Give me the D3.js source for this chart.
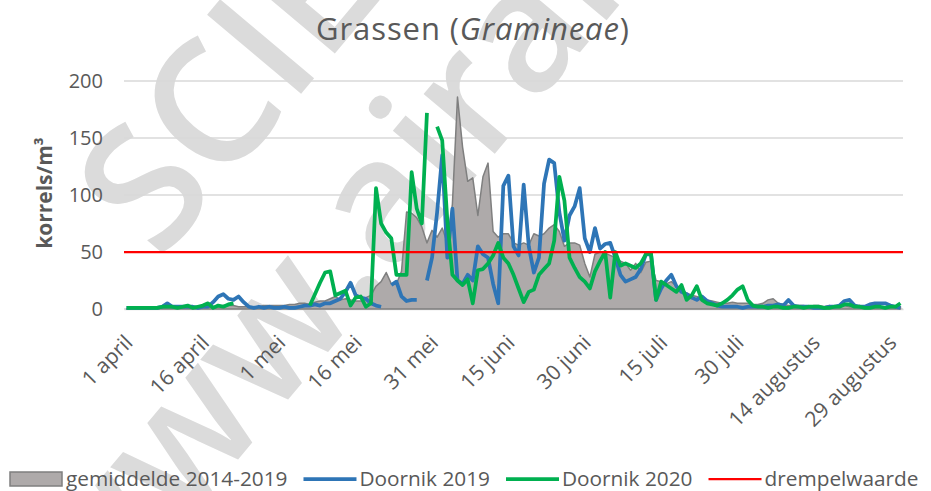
<!DOCTYPE html>
<html>
<head>
<meta charset="utf-8">
<script src="https://cdn.jsdelivr.net/npm/d3@7"></script>
<style>
  body { margin: 0; background: #fff; }
  svg { display: block; font-family: 'Open Sans', 'Noto Sans', sans-serif; }
</style>
</head>
<body>
<div id="chart"></div>
<script>
// daily categories, 1 april - 31 augustus
const days = d3.timeDay.range(new Date(2020, 3, 1), new Date(2020, 8, 1));

const tickLabels = ['1 april', '16 april', '1 mei', '16 mei', '31 mei', '15 juni',
  '30 juni', '15 juli', '30 juli', '14 augustus', '29 augustus'];
const tickStep = 15;
const yTicks = [0, 50, 100, 150, 200];

const gemiddelde = [
  0, 0, 0, 0, 1, 1, 1, 1, 1, 1, 1, 1, 1, 2, 2, 2, 2, 2, 3, 3,
  3, 3, 2, 2, 2, 2, 2, 3, 3, 3, 3, 3, 4, 4, 5, 5, 4, 6, 7, 7,
  9, 11, 8, 9, 8, 7, 7, 10, 12, 20, 24, 32, 22, 22, 33, 85, 84, 80, 72, 58,
  69, 63, 71, 58, 92, 186, 142, 112, 115, 82, 116, 128, 68, 63, 66, 66, 58, 56, 58, 56,
  66, 64, 66, 71, 74, 68, 55, 58, 58, 56, 40, 28, 48, 50, 49, 47, 45, 42, 40, 34,
  40, 32, 41, 42, 25, 24, 22, 24, 20, 17, 14, 12, 11, 9, 8, 7, 6, 5, 5, 6,
  5, 5, 5, 4, 4, 5, 8, 9, 5, 4, 3, 3, 3, 3, 2, 3, 3, 2, 3, 2,
  3, 3, 2, 2, 3, 2, 3, 3, 2, 2, 2, 2, 2
];

const doornik2019 = [
  1, 1, 1, 1, 1, 1, 1, 2, 5, 2, 2, 2, 2, 2, 1, 2, 2, 6, 11, 13,
  9, 8, 11, 6, 2, 1, 2, 1, 2, 1, 1, 2, 1, 1, 2, 3, 3, 4, 3, 5,
  5, 7, 9, 15, 23, 12, 10, 9, 5, 3, 2, null, 21, 24, 11, 7, 8, 8, null, 25,
  45, 85, 135, 45, 88, 25, 22, 30, 25, 55, 48, 45, 22, 5, 108, 117, 55, 47, 109, 55,
  32, 45, 110, 131, 128, 85, 60, 82, 90, 106, 62, 50, 71, 53, 57, 58, 45, 30, 24, 26,
  28, 35, 48, 48, 8, 18, 25, 30, 20, 15, 13, 10, 8, 11, 7, 5, 3, 2, 2, 2,
  2, 1, 2, 2, 2, 2, 3, 3, 4, 3, 8, 3, 2, 2, 2, 1, 1, 1, 2, 2,
  3, 7, 8, 3, 2, 2, 4, 5, 5, 5, 3, 2, 1
];

const doornik2020 = [
  1, 1, 1, 1, 1, 1, 1, 2, 2, 2, 1, 2, 3, 1, 2, 3, 5, 1, 3, 2,
  4, 5, null, null, null, null, null, null, null, null, null, null, null, null, null, null, 3, 13, 23, 32,
  33, 12, 14, 16, 3, 10, 11, 2, 5, 106, 75, 67, 62, 30, 30, 30, 120, 88, 75, 172,
  null, 160, 148, 78, 30, 25, 21, 26, 5, 34, 35, 40, 47, 58, 45, 40, 30, 18, 6, 15,
  17, 30, 35, 40, 60, 116, 95, 45, 36, 28, 24, 18, 33, 42, 50, 10, 50, 38, 40, 38,
  36, 40, 48, 49, 8, 24, 21, 18, 15, 21, 8, 12, 20, 8, 5, 4, 3, 5, 8, 12,
  17, 20, 8, 3, 2, 2, 1, 2, 2, 1, 1, 2, 2, 1, 2, 2, 2, 1, 1, 2,
  2, 4, 4, 2, 2, 1, 1, 2, 2, 1, 2, 2, 5
];

const drempelwaarde = 50;

const legendNames = ['gemiddelde 2014-2019', 'Doornik 2019', 'Doornik 2020', 'drempelwaarde'];

const colors = {
  area: '#aeaaaa',
  areaStroke: '#7f7f7f',
  blue: '#2e75b6',
  green: '#00b050',
  red: '#ff0000',
  grid: '#d9d9d9',
  text: '#595959'
};

const width = 931;
const height = 491;
const plot = { left: 124, right: 903, top: 81, bottom: 309 };

const svg = d3.select('#chart').append('svg')
  .attr('width', width)
  .attr('height', height);

const x = d3.scalePoint()
  .domain(d3.range(days.length))
  .range([plot.left, plot.right])
  .padding(0.5);

const y = d3.scaleLinear()
  .domain([0, 200])
  .range([plot.bottom, plot.top]);

// watermark
const mark = svg.append('g')
  .attr('fill', '#dbdbdb')
  .attr('font-size', 172)
  .attr('font-weight', 600);
mark.append('text')
  .attr('transform', 'translate(160,262) rotate(-50)')
  .text('SCIENSANO');
mark.append('text')
  .attr('transform', 'translate(90,636) rotate(-50)')
  .text('www.airallergy.be');

// gridlines
svg.append('g')
  .selectAll('line')
  .data(yTicks)
  .enter().append('line')
  .attr('x1', plot.left)
  .attr('x2', plot.right)
  .attr('y1', d => y(d))
  .attr('y2', d => y(d))
  .attr('stroke', colors.grid)
  .attr('stroke-width', 1.5);

// y axis labels
const yAxis = svg.append('g')
  .attr('transform', `translate(${plot.left},0)`)
  .call(d3.axisLeft(y).tickValues(yTicks).tickSize(0).tickPadding(21));
yAxis.select('.domain').remove();
yAxis.selectAll('text')
  .attr('fill', colors.text)
  .attr('font-size', 20)
  .attr('font-family', 'Open Sans');

// x axis
const tickIdx = d3.range(0, days.length, tickStep);
const xAxis = svg.append('g')
  .attr('transform', `translate(0,${plot.bottom})`)
  .call(d3.axisBottom(x).tickValues(tickIdx).tickSize(0)
    .tickFormat((d, i) => tickLabels[i]));
xAxis.select('.domain').attr('stroke', colors.grid).attr('stroke-width', 1.5);
xAxis.selectAll('text')
  .attr('x', 0)
  .attr('y', 0)
  .attr('dy', 0)
  .attr('transform', 'translate(7,35) rotate(-45)')
  .attr('text-anchor', 'end')
  .attr('fill', colors.text)
  .attr('font-size', 21)
  .attr('font-family', 'Open Sans');

// gemiddelde area
const area = d3.area()
  .x((d, i) => x(i))
  .y0(y(0))
  .y1(d => y(d));
svg.append('path')
  .datum(gemiddelde)
  .attr('d', area)
  .attr('fill', colors.area)
  .attr('stroke', colors.areaStroke)
  .attr('stroke-width', 1.5)
  .attr('stroke-linejoin', 'round');

const line = d3.line()
  .defined(d => d != null)
  .x((d, i) => x(i))
  .y(d => y(d));

svg.append('path')
  .datum(doornik2019)
  .attr('d', line)
  .attr('fill', 'none')
  .attr('stroke', colors.blue)
  .attr('stroke-width', 3.75)
  .attr('stroke-linejoin', 'round');

svg.append('path')
  .datum(doornik2020)
  .attr('d', line)
  .attr('fill', 'none')
  .attr('stroke', colors.green)
  .attr('stroke-width', 3.75)
  .attr('stroke-linejoin', 'round');

svg.append('line')
  .attr('x1', plot.left)
  .attr('x2', plot.right)
  .attr('y1', y(drempelwaarde))
  .attr('y2', y(drempelwaarde))
  .attr('stroke', colors.red)
  .attr('stroke-width', 2.25);

// title
const title = svg.append('text')
  .attr('x', 473)
  .attr('y', 40)
  .attr('text-anchor', 'middle')
  .attr('fill', colors.text)
  .attr('font-size', 31)
  .attr('letter-spacing', 0.9);
title.append('tspan').text('Grassen (');
title.append('tspan').attr('font-style', 'italic').text('Gramineae');
title.append('tspan').text(')');

// y axis title
svg.append('text')
  .attr('transform', 'translate(52,193) rotate(-90)')
  .attr('text-anchor', 'middle')
  .attr('fill', colors.text)
  .attr('font-size', 21)
  .attr('font-weight', 'bold')
  .text('korrels/m³');

// legend
const legend = svg.append('g')
  .attr('font-size', 20.8)
  .attr('fill', colors.text);
const legendY = 479;
const symbolColors = [null, colors.blue, colors.green, colors.red];
let lx = 10;
legendNames.forEach((name, i) => {
  if (i === 0) {
    legend.append('rect')
      .attr('x', lx)
      .attr('y', legendY - 7)
      .attr('width', 52)
      .attr('height', 14)
      .attr('fill', colors.area)
      .attr('stroke', colors.areaStroke)
      .attr('stroke-width', 1.5);
  } else {
    legend.append('line')
      .attr('x1', lx)
      .attr('x2', lx + 53)
      .attr('y1', legendY)
      .attr('y2', legendY)
      .attr('stroke', symbolColors[i])
      .attr('stroke-width', i === 3 ? 2.25 : 3.75);
  }
  const t = legend.append('text')
    .attr('x', lx + 56)
    .attr('y', legendY + 7)
    .text(name);
  lx += 56 + t.node().getComputedTextLength() + 16;
});
</script>
</body>
</html>
